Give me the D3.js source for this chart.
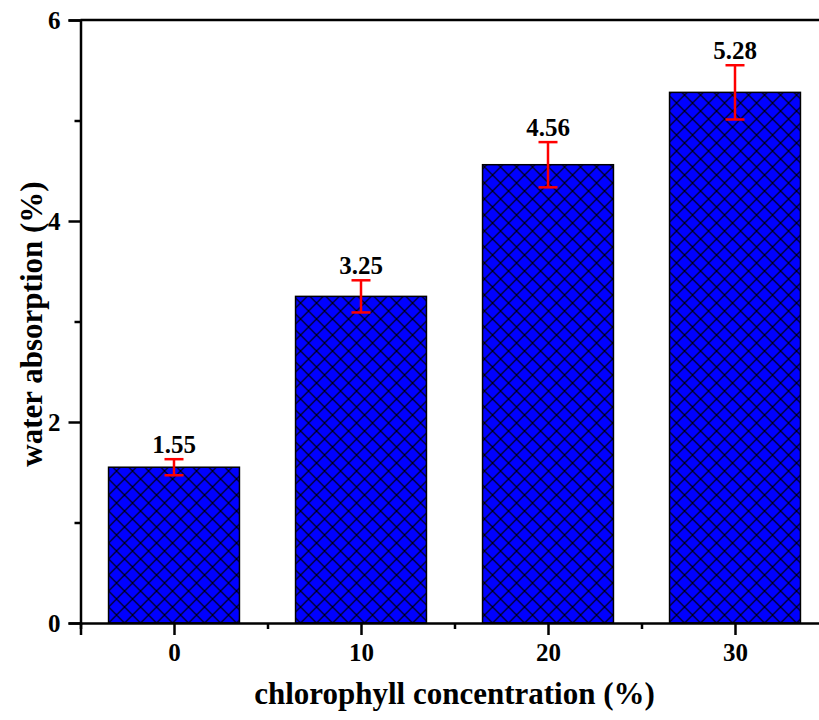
<!DOCTYPE html>
<html>
<head>
<meta charset="utf-8">
<script src="https://cdn.jsdelivr.net/npm/d3@7"></script>
<style>
  body { margin: 0; background: #fff; }
  text { font-family: "Liberation Serif", "Times New Roman", serif; font-weight: bold; }
</style>
</head>
<body>
<script>
const width = 819, height = 720
const categories = [0, 10, 20, 30]
const values = [1.55, 3.25, 4.56, 5.28]
const errors = [0.08, 0.16, 0.225, 0.27]
const yTicks = [0, 2, 4, 6]
const yMinor = [1, 3, 5]
const xMinor = [-5, 5, 15, 25, 35]

const svg = d3.select("body").append("svg")
    .attr("width", width)
    .attr("height", height)

const x = d3.scaleLinear().domain([-5, 35]).range([80.5, 828.5])
const y = d3.scaleLinear().domain([0, 6]).range([623, 20])
const barW = x(7) - x(0)
const hs = 16 // hatch tile size

// hatch pattern
const defs = svg.append("defs")
const pat = defs.append("pattern")
    .attr("id", "hatch")
    .attr("patternUnits", "userSpaceOnUse")
    .attr("width", hs).attr("height", hs)
    .attr("x", x(0) - barW / 2).attr("y", y(0))
pat.append("rect").attr("width", hs).attr("height", hs).attr("fill", "#0000ff")
pat.append("path")
    .attr("d", `M0,0L${hs},${hs}M${hs},0L0,${hs}M-1,${hs - 1}L1,${hs + 1}M${hs - 1},-1L${hs + 1},1M${hs - 1},${hs + 1}L${hs + 1},${hs - 1}M-1,1L1,-1`)
    .attr("stroke", "#000").attr("stroke-width", 1.2)

// bars
svg.selectAll(".bar").data(values).enter()
    .append("rect")
    .attr("class", "bar")
    .attr("x", (d, i) => x(categories[i]) - barW / 2)
    .attr("y", d => y(d))
    .attr("width", barW)
    .attr("height", d => y(0) - y(d))
    .attr("fill", "url(#hatch)")
    .attr("stroke", "#000")
    .attr("stroke-width", 1.5)

// error bars
const eb = svg.selectAll(".err").data(values).enter().append("g")
    .attr("stroke", "#ff0000").attr("stroke-width", 2.5)
eb.append("line")
    .attr("x1", (d, i) => x(categories[i])).attr("x2", (d, i) => x(categories[i]))
    .attr("y1", (d, i) => y(d + errors[i])).attr("y2", (d, i) => y(d - errors[i]))
eb.append("line")
    .attr("x1", (d, i) => x(categories[i]) - 9.5).attr("x2", (d, i) => x(categories[i]) + 9.5)
    .attr("y1", (d, i) => y(d + errors[i])).attr("y2", (d, i) => y(d + errors[i]))
eb.append("line")
    .attr("x1", (d, i) => x(categories[i]) - 9.5).attr("x2", (d, i) => x(categories[i]) + 9.5)
    .attr("y1", (d, i) => y(d - errors[i])).attr("y2", (d, i) => y(d - errors[i]))

// value labels
svg.selectAll(".lbl").data(values).enter()
    .append("text")
    .attr("x", (d, i) => x(categories[i]))
    .attr("y", (d, i) => y(d + errors[i]) - 6)
    .attr("text-anchor", "middle")
    .style("font-size", "25px")
    .text(d => d.toFixed(2))

// frame (top line)
svg.append("line")
    .attr("x1", x(-5)).attr("x2", x(35))
    .attr("y1", y(6)).attr("y2", y(6))
    .attr("stroke", "#000").attr("stroke-width", 2.5)

// axes
const yAxis = svg.append("g").attr("transform", `translate(${x(-5)},0)`)
    .call(d3.axisLeft(y).tickValues(yTicks).tickSize(12).tickPadding(8).tickFormat(d3.format("d")))
const yAxisMinor = svg.append("g").attr("transform", `translate(${x(-5)},0)`)
    .call(d3.axisLeft(y).tickValues(yMinor).tickSize(6).tickFormat(""))
const xAxis = svg.append("g").attr("transform", `translate(0,${y(0)})`)
    .call(d3.axisBottom(x).tickValues(categories).tickSize(12).tickPadding(8).tickFormat(d3.format("d")))
const xAxisMinor = svg.append("g").attr("transform", `translate(0,${y(0)})`)
    .call(d3.axisBottom(x).tickValues(xMinor).tickSize(6).tickFormat(""))

for (const a of [yAxis, yAxisMinor, xAxis, xAxisMinor]) {
    a.select(".domain").attr("stroke-width", 2.5)
    a.selectAll(".tick line").attr("stroke-width", 2.5)
    a.selectAll("text").attr("fill", "#000")
        .style("font-size", "25px")
        .style("font-family", '"Liberation Serif", serif').style("font-weight", "bold")
}
yAxisMinor.select(".domain").remove()
xAxisMinor.select(".domain").remove()

// axis titles
svg.append("text")
    .attr("x", (x(-5) + x(35)) / 2)
    .attr("y", 704)
    .attr("text-anchor", "middle")
    .style("font-size", "31px")
    .text("chlorophyll concentration (%)")

svg.append("text")
    .attr("transform", `translate(42,324) rotate(-90)`)
    .attr("text-anchor", "middle")
    .style("font-size", "31px")
    .text("water absorption (%)")
</script>
</body>
</html>
